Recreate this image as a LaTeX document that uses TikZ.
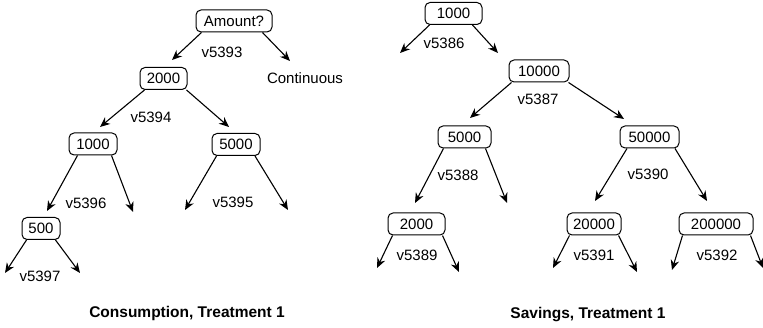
\documentclass[tikz,border=0pt]{standalone}
\usepackage{fontspec}
\setmainfont{Liberation Sans}
\usetikzlibrary{arrows.meta}
\begin{document}
\begin{tikzpicture}[x=1pt,y=-1pt,
  box/.style={draw, rounded corners=5pt, line width=1pt, minimum height=22pt, inner ysep=0pt, inner xsep=2pt, font=\fontsize{15}{18}\selectfont},
  lbl/.style={font=\fontsize{15}{18}\selectfont, inner sep=0pt},
  ttl/.style={font=\fontsize{15.5}{18}\selectfont\bfseries, inner sep=0pt, anchor=base},
  arr/.style={-{Stealth[length=10pt,width=8.5pt]}, line width=1.1pt}
]
\useasboundingbox (0,0) rectangle (763,328);

% ---------- left tree ----------
\node[box, minimum width=76pt] (amount) at (234,21) {Amount?};
\node[box, minimum width=47pt] (c2000) at (163.5,78.5) {2000};
\node[box, minimum width=48pt] (c1000) at (93,144) {1000};
\node[box, minimum width=48pt] (c5000) at (236,144.5) {5000};
\node[box, minimum width=38pt] (c500) at (41,228.5) {500};

\coordinate (aL) at (172,60);   \coordinate (aR) at (290,61);
\coordinate (bL) at (100,127);  \coordinate (bR) at (229,127);
\coordinate (cL) at (47,211);   \coordinate (cR) at (133,212);
\coordinate (dL) at (185,210);  \coordinate (dR) at (288,210);
\coordinate (eL) at (5,273);    \coordinate (eR) at (80,273);

\draw[arr] ([xshift=6pt]amount.south west) -- (aL);
\draw[arr] ([xshift=-10pt]amount.south east) -- (aR);
\draw[arr] ([xshift=5pt]c2000.south west) -- (bL);
\draw[arr] ([xshift=-1pt]c2000.south east) -- (bR);
\draw[arr] ([xshift=9pt]c1000.south west) -- (cL);
\draw[arr] ([xshift=-6pt]c1000.south east) -- (cR);
\draw[arr] ([xshift=5pt]c5000.south west) -- (dL);
\draw[arr] ([xshift=-5.5pt]c5000.south east) -- (dR);
\draw[arr] ([xshift=5pt]c500.south west) -- (eL);
\draw[arr] ([xshift=-5pt]c500.south east) -- (eR);

\node[lbl] (l5393) at (222,52) {v5393};
\node[lbl] (lcont) at (305,78) {Continuous};
\node[lbl] (l5394) at (151,117) {v5394};
\node[lbl] (l5396) at (86,203) {v5396};
\node[lbl] (l5395) at (233,202) {v5395};
\node[lbl] (l5397) at (40,276) {v5397};
\node[ttl] (t1) at (187,317.5) {Consumption, Treatment 1};

% ---------- right tree ----------
\node[box, minimum width=57pt] (r1000) at (453.5,13.5) {1000};
\node[box, minimum width=60pt] (r10000) at (539,71) {10000};
\node[box, minimum width=53pt] (r5000) at (464.5,137) {5000};
\node[box, minimum width=59pt] (r50000) at (649.5,137) {50000};
\node[box, minimum width=57pt] (r2000) at (416.5,224) {2000};
\node[box, minimum width=54pt] (r20000) at (594,224) {20000};
\node[box, minimum width=74pt] (r200000) at (716,224) {200000};

\coordinate (fL) at (400,53);   \coordinate (fR) at (498,53);
\coordinate (gL) at (470,118);  \coordinate (gR) at (624,119);
\coordinate (hL) at (415,203);  \coordinate (hR) at (507,203);
\coordinate (iL) at (595,201);  \coordinate (iR) at (707,201);
\coordinate (jL) at (377,268);  \coordinate (jR) at (459,272);
\coordinate (kL) at (553,268);  \coordinate (kR) at (637,272);
\coordinate (mL) at (672,270);  \coordinate (mR) at (763,268);

\draw[arr] ([xshift=5pt]r1000.south west) -- (fL);
\draw[arr] ([xshift=-10pt]r1000.south east) -- (fR);
\draw[arr] ([xshift=3pt]r10000.south west) -- (gL);
\draw[arr] ([xshift=-1pt]r10000.south east) -- (gR);
\draw[arr] ([xshift=6pt]r5000.south west) -- (hL);
\draw[arr] ([xshift=-6pt]r5000.south east) -- (hR);
\draw[arr] ([xshift=7.5pt]r50000.south west) -- (iL);
\draw[arr] ([xshift=-4.5pt]r50000.south east) -- (iR);
\draw[arr] ([xshift=5pt]r2000.south west) -- (jL);
\draw[arr] ([xshift=-3pt]r2000.south east) -- (jR);
\draw[arr] ([xshift=3pt]r20000.south west) -- (kL);
\draw[arr] ([xshift=-3pt]r20000.south east) -- (kR);
\draw[arr] ([xshift=4pt]r200000.south west) -- (mL);
\draw[arr] ([xshift=-3pt]r200000.south east) -- (mR);

\node[lbl] (l5386) at (444,43) {v5386};
\node[lbl] (l5387) at (538,99) {v5387};
\node[lbl] (l5388) at (458,175) {v5388};
\node[lbl] (l5390) at (648,174) {v5390};
\node[lbl] (l5389) at (417,255) {v5389};
\node[lbl] (l5391) at (594,255) {v5391};
\node[lbl] (l5392) at (717,255) {v5392};
\node[ttl] (t2) at (588,318.5) {Savings, Treatment 1};
\end{tikzpicture}
\end{document}
